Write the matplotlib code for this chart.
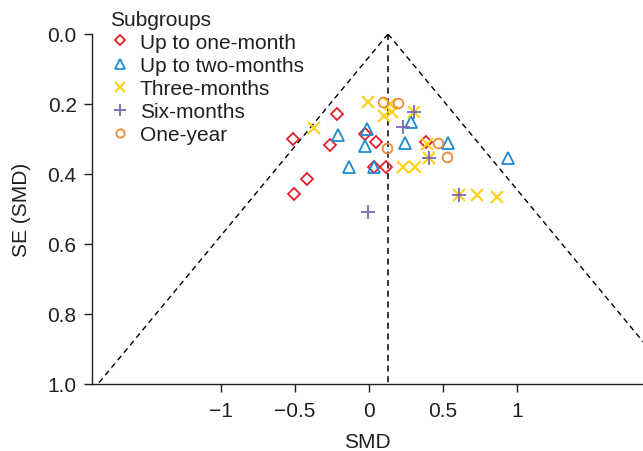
import matplotlib.pyplot as plt
import numpy as np

plt.rcParams['font.family'] = ['Liberation Sans', 'DejaVu Sans']

# subgroup data: standardized mean difference vs its standard error
one_month_smd = [-0.514, -0.216, -0.264, -0.027, 0.047, -0.419, -0.507, 0.034, 0.115, 0.385]
one_month_se = [0.300, 0.229, 0.317, 0.286, 0.309, 0.414, 0.457, 0.380, 0.380, 0.309]

two_months_smd = [-0.014, -0.210, -0.027, -0.135, 0.034, 0.284, 0.243, 0.534, 0.939]
two_months_se = [0.271, 0.289, 0.320, 0.380, 0.380, 0.251, 0.311, 0.311, 0.354]

three_months_smd = [-0.007, -0.372, 0.142, 0.101, 0.155, 0.304, 0.392, 0.230, 0.311, 0.405, 0.608, 0.730, 0.865]
three_months_se = [0.194, 0.269, 0.200, 0.234, 0.223, 0.223, 0.314, 0.380, 0.380, 0.354, 0.460, 0.460, 0.466]

six_months_smd = [0.304, 0.230, 0.405, 0.608, -0.007]
six_months_se = [0.223, 0.266, 0.354, 0.460, 0.509]

one_year_smd = [0.095, 0.196, 0.122, 0.466, 0.527]
one_year_se = [0.194, 0.197, 0.326, 0.311, 0.351]

pooled_smd = 0.128

x_ticks = [-1, -0.5, 0, 0.5, 1]
x_tick_labels = ['\u22121', '\u22120.5', '0', '0.5', '1']
y_ticks = [0.0, 0.2, 0.4, 0.6, 0.8, 1.0]

text_color = '#231f20'
fs = 15

fig = plt.figure(figsize=(6.43, 4.52), dpi=100)
ax = fig.add_axes([92 / 643, 1 - 385 / 452, 1 - 92 / 643, 350 / 452])

# funnel
se_line = np.array([0.0, 1.0])
ax.plot(pooled_smd - 1.96 * se_line, se_line, ls=(0, (4, 3)), color='black', lw=1.0, zorder=1)
ax.plot(pooled_smd + 1.96 * se_line, se_line, ls=(0, (4, 3)), color='black', lw=1.0, zorder=1)
ax.plot([pooled_smd, pooled_smd], [0, 1], ls=(0, (4, 3)), color='black', lw=1.1, zorder=1)

ax.plot(one_month_smd, one_month_se, 'D', ms=6.5, mfc='none', mec='#e41e2b', mew=1.3,
        ls='none', label='Up to one-month')
ax.plot(two_months_smd, two_months_se, '^', ms=8, mfc='none', mec='#1b8ad3', mew=1.3,
        ls='none', label='Up to two-months')
ax.plot(three_months_smd, three_months_se, 'x', ms=9, mec='#fcd116', mew=1.5,
        ls='none', label='Three-months')
ax.plot(six_months_smd, six_months_se, '+', ms=10, mec='#7a68b3', mew=1.3,
        ls='none', label='Six-months')
ax.plot(one_year_smd, one_year_se, 'o', ms=7, mfc='none', mec='#f0883c', mew=1.3,
        ls='none', label='One-year')

ax.set_xlim(-1.872, 1.851)
ax.set_ylim(1.0, 0.0)
ax.set_xticks(x_ticks)
ax.set_xticklabels(x_tick_labels)
ax.set_yticks(y_ticks)
ax.set_yticklabels(['%.1f' % v for v in y_ticks])

for side in ['top', 'right']:
    ax.spines[side].set_visible(False)
for side in ['left', 'bottom']:
    ax.spines[side].set_color(text_color)
    ax.spines[side].set_linewidth(1.0)

ax.tick_params(direction='out', length=6, width=1.0, colors=text_color, labelsize=fs,
               labelcolor=text_color)
ax.tick_params(axis='x', pad=6)
ax.tick_params(axis='y', pad=5)

ax.set_xlabel('SMD', fontsize=fs, color=text_color, labelpad=9)
ax.set_ylabel('SE (SMD)', fontsize=fs, color=text_color, labelpad=12)

leg = ax.legend(title='Subgroups', loc='upper left', bbox_to_anchor=(95 / 643, 1 + 4 / 452),
                bbox_transform=fig.transFigure, frameon=False, fontsize=fs,
                title_fontsize=fs, handlelength=1.0, handletextpad=0.45,
                labelspacing=0.2, borderpad=0.2, markerscale=0.85, alignment='left')
for t in leg.get_texts():
    t.set_color(text_color)
leg.get_title().set_color(text_color)

fig.savefig('out.png', dpi=100)
